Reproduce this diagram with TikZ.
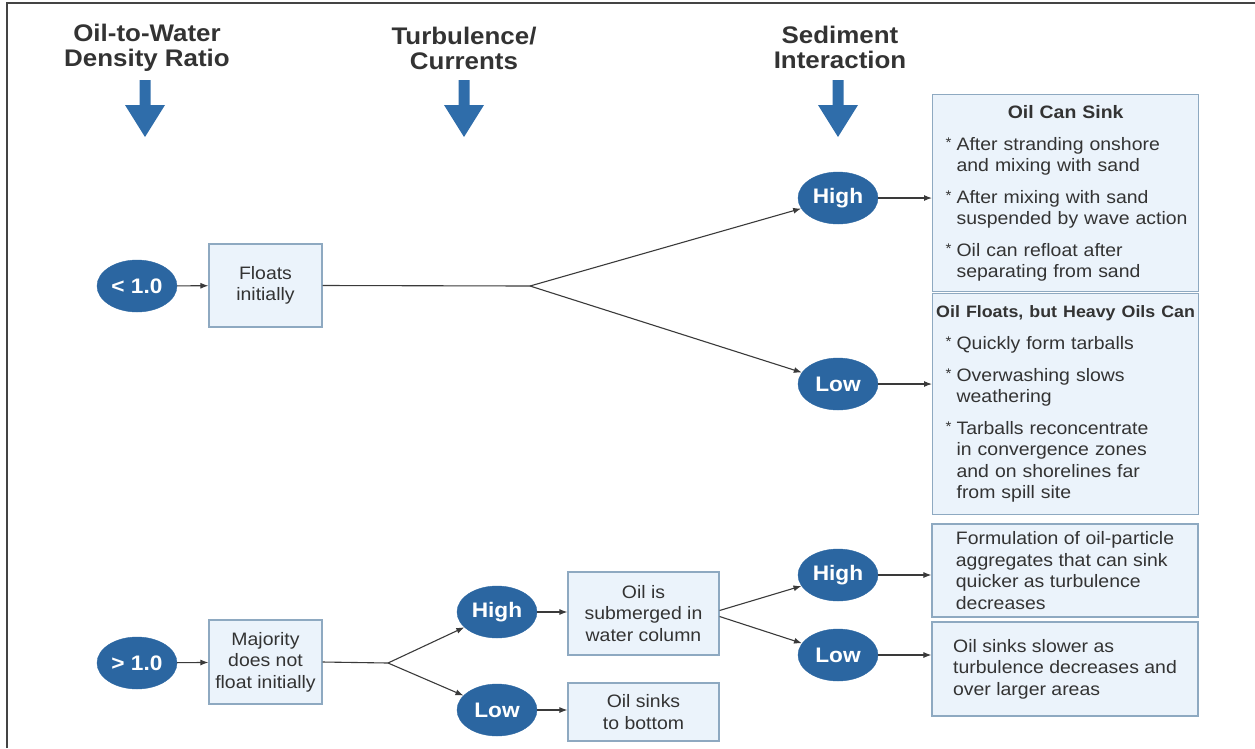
\documentclass[tikz,border=0pt]{standalone}
\usepackage{fontspec}
\setmainfont{Liberation Sans}[FakeStretch=1.08]
\usetikzlibrary{shapes.geometric,arrows.meta,calc}
\definecolor{headtext}{HTML}{333333}
\definecolor{bodytext}{HTML}{333333}
\definecolor{arrowblue}{HTML}{2F6DAA}
\definecolor{ellblue}{HTML}{2B66A1}
\definecolor{boxfill}{HTML}{EBF3FB}
\definecolor{boxdraw}{HTML}{8EA9C1}
\definecolor{linecol}{HTML}{3A3A3A}
\definecolor{framecol}{HTML}{444444}
\newcommand\bulmark[1]{\mbox{\makebox[11pt][l]{\raisebox{3pt}{\fontsize{14}{14}\selectfont *}}#1}}
\newcommand\contind[1]{\mbox{\hspace*{11pt}#1}}
\begin{document}
\begin{tikzpicture}[x=1pt,y=-1pt,
  header/.style={align=center, text=headtext, font=\fontsize{24}{25}\selectfont\bfseries, inner sep=0},
  blob/.style={ellipse, fill=ellblue, draw=ellblue, minimum width=80pt, minimum height=52pt, inner sep=0,
     text=white, font=\fontsize{21}{21}\selectfont\bfseries},
  box/.style={rectangle, fill=boxfill, draw=boxdraw, line width=1.2pt, text=bodytext,
     font=\fontsize{18}{21.5}\selectfont, inner sep=0},
  conn/.style={draw=linecol, line width=1.1pt, -{Latex[length=8pt,width=6pt]}},
  plain/.style={draw=linecol, line width=1.1pt},
  bigarrow/.style={fill=arrowblue}
]
\useasboundingbox (0,0) rectangle (1255,748);
% frame
\draw[framecol, line width=1.5pt] (7,748) -- (7,3) -- (1255,3);

% headers
\node[header] (h1) at (147,48) {Oil-to-Water\\Density Ratio};
\node[header] (h2) at (464,48) {Turbulence/\\Currents};
\node[header] (h3) at (840,47) {Sediment\\Interaction};

% blue down arrows
\foreach \ax in {145,464,838}{
  \fill[bigarrow, shift={(\ax,80)}] (-5.5,0) -- (5.5,0) -- (5.5,25) -- (20,25) -- (0,57) -- (-20,25) -- (-5.5,25) -- cycle;
}

% upper branch
\node[blob] (lt) at (137,286) {< 1.0};
\node[box, minimum width=113, minimum height=83, align=center] (floats) at (265.5,285.5) {Floats\\initially};
\coordinate (br1) at (530,286);
\node[blob] (high1) at (838,198) {High};
\node[blob] (low1) at (838,384) {Low};

\node[box, anchor=north west, minimum width=266, minimum height=197, text width=240, inner xsep=13, align=left] (sink) at (932,94) {%
\makebox[240pt][c]{\bfseries Oil Can Sink}\\[10.5pt]
\bulmark{After stranding onshore}\\
\contind{and mixing with sand}\\[10pt]
\bulmark{After mixing with sand}\\
\contind{suspended by wave action}\\[10pt]
\bulmark{Oil can refloat after}\\
\contind{separating from sand}};

\node[box, anchor=north west, minimum width=266, minimum height=221, text width=240, inner xsep=13, align=left] (floatbox) at (932,293) {%
\makebox[240pt][c]{\fontsize{16.5}{21.5}\selectfont\bfseries Oil Floats, but Heavy Oils Can}\\[10.5pt]
\bulmark{Quickly form tarballs}\\[10pt]
\bulmark{Overwashing slows}\\
\contind{weathering}\\[10pt]
\bulmark{Tarballs reconcentrate}\\
\contind{in convergence zones}\\
\contind{and on shorelines far}\\
\contind{from spill site}};

\draw[conn] (lt) -- (floats);
\draw[plain] (floats.east) -- (br1);
\draw[conn] (br1) -- (high1);
\draw[conn] (br1) -- (low1);
\draw[conn] (high1) -- (high1 -| sink.west);
\draw[conn] (low1) -- (low1 -| floatbox.west);

% lower branch
\node[blob] (gt) at (137,663) {> 1.0};
\node[box, minimum width=113, minimum height=84, align=center] (major) at (265.5,662) {Majority\\does not\\float initially};
\coordinate (br2) at (388,663);
\node[blob] (high2) at (497,612) {High};
\node[blob] (low2) at (497,710) {Low};
\node[box, minimum width=151, minimum height=83, align=center] (sub) at (643.5,613.5) {Oil is\\submerged in\\water column};
\node[box, minimum width=151, minimum height=58, align=center] (bottom) at (643.5,712) {Oil sinks\\to bottom};
\node[blob] (high3) at (838,575) {High};
\node[blob] (low3) at (838,655) {Low};
\node[box, minimum width=266, minimum height=93, align=left] (form) at (1065,570.5) {Formulation of oil-particle\\aggregates that can sink\\quicker as turbulence\\decreases};
\node[box, minimum width=266, minimum height=94, align=left] (slow) at (1065,669) {Oil sinks slower as\\turbulence decreases and\\over larger areas};

\draw[conn] (gt) -- (major);
\draw[plain] (major.east) -- (br2);
\draw[conn] (br2) -- (high2);
\draw[conn] (br2) -- (low2);
\draw[conn] (high2) -- (high2 -| sub.west);
\draw[conn] (low2) -- (low2 -| bottom.west);
\draw[conn] ($(sub.east)+(0,-3)$) -- (high3);
\draw[conn] ($(sub.east)+(0,3)$) -- (low3);
\draw[conn] (high3) -- (high3 -| form.west);
\draw[conn] (low3) -- (low3 -| slow.west);
\end{tikzpicture}
\end{document}
